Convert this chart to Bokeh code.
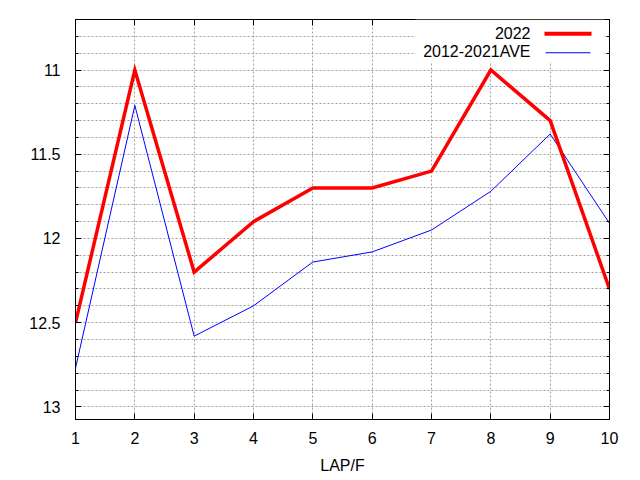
from bokeh.plotting import figure
from bokeh.models import Range1d, FixedTicker, LinearAxis, Label, BoxAnnotation
from bokeh.embed import file_html
from bokeh.resources import INLINE

LAPS = [1, 2, 3, 4, 5, 6, 7, 8, 9, 10]
Y2022 = [12.5, 11.0, 12.2, 11.9, 11.7, 11.7, 11.6, 11.0, 11.3, 12.3]
AVE = [12.77, 11.21, 12.58, 12.40, 12.14, 12.08, 11.95, 11.72, 11.38, 11.91]
Y_MAJOR = [11.0, 11.5, 12.0, 12.5, 13.0]
Y_MINOR = [10.7, 10.8, 10.9, 11.1, 11.2, 11.3, 11.4, 11.6, 11.7, 11.8, 11.9,
           12.1, 12.2, 12.3, 12.4, 12.6, 12.7, 12.8, 12.9]
NAMES = ["2022", "2012-2021AVE"]
X_LABEL = "LAP/F"

FONT = "Liberation Sans"
FS = "16px"
GRID = "#a0a0a0"

p = figure(width=640, height=480, output_backend="svg", toolbar_location=None,
           x_range=Range1d(1, 10), y_range=Range1d(13.075, 10.7),
           min_border_left=75, min_border_right=31, min_border_top=19,
           min_border_bottom=61, background_fill_color="white",
           border_fill_color="white")
p.outline_line_color = "black"
p.outline_line_alpha = 1

xt = FixedTicker(ticks=LAPS)
yt = FixedTicker(ticks=Y_MAJOR, minor_ticks=Y_MINOR)
p.xaxis.ticker = xt
p.yaxis.ticker = yt

for ax in [p.xaxis[0], p.yaxis[0]]:
    ax.axis_line_color = "black"
    ax.major_tick_in = 6
    ax.major_tick_out = 0
    ax.minor_tick_in = 3
    ax.minor_tick_out = 0
    ax.major_tick_line_color = "black"
    ax.minor_tick_line_color = "black"
    ax.major_label_text_font = FONT
    ax.major_label_text_font_size = FS
    ax.major_label_text_color = "black"
p.xaxis.major_label_standoff = 12
p.yaxis.major_label_standoff = 15
p.xaxis.axis_label = X_LABEL
p.xaxis.axis_label_text_font = FONT
p.xaxis.axis_label_text_font_size = FS
p.xaxis.axis_label_text_font_style = "normal"
p.xaxis.axis_label_text_color = "black"
p.xaxis.axis_label_standoff = 10

top = LinearAxis(ticker=xt, major_label_text_font_size="0px", major_label_standoff=0,
                 major_tick_in=6, major_tick_out=0, minor_tick_line_color=None,
                 major_label_text_color=None, axis_line_color="black")
right = LinearAxis(ticker=yt, major_label_text_font_size="0px", major_label_standoff=0,
                   major_tick_in=6, major_tick_out=0, minor_tick_in=3, minor_tick_out=0,
                   major_label_text_color=None, axis_line_color="black")
p.add_layout(top, "above")
p.add_layout(right, "right")

p.xgrid.grid_line_color = GRID
p.xgrid.grid_line_dash = "2 2"
p.ygrid.grid_line_color = GRID
p.ygrid.grid_line_dash = "2 2"
p.ygrid.minor_grid_line_color = GRID
p.ygrid.minor_grid_line_dash = "2 2"

p.line(LAPS, AVE, line_color="#0000ff", line_width=1, line_join="miter")
p.line(LAPS, Y2022, line_color="#ff0000", line_width=3.5, line_join="miter")

# legend (gnuplot style: label then sample, opaque)
p.add_layout(BoxAnnotation(left=340, right=529, top=400, bottom=358,
                           left_units="screen", right_units="screen",
                           top_units="screen", bottom_units="screen",
                           fill_color="white", fill_alpha=1, line_color=None))
p.add_layout(Label(x=455, y=387, x_units="screen", y_units="screen", text=NAMES[0],
                   text_align="right", text_baseline="middle", text_font=FONT,
                   text_font_size=FS, text_color="black"))
p.add_layout(Label(x=455, y=368, x_units="screen", y_units="screen", text=NAMES[1],
                   text_align="right", text_baseline="middle", text_font=FONT,
                   text_font_size=FS, text_color="black"))
p.add_layout(BoxAnnotation(left=469, right=516, top=387.7, bottom=383.7,
                           left_units="screen", right_units="screen",
                           top_units="screen", bottom_units="screen",
                           fill_color="#ff0000", fill_alpha=1, line_color=None))
p.add_layout(BoxAnnotation(left=470, right=515, top=367.2, bottom=366.2,
                           left_units="screen", right_units="screen",
                           top_units="screen", bottom_units="screen",
                           fill_color="#0000ff", fill_alpha=1, line_color=None))

open("out.html", "w").write(file_html(p, INLINE))
